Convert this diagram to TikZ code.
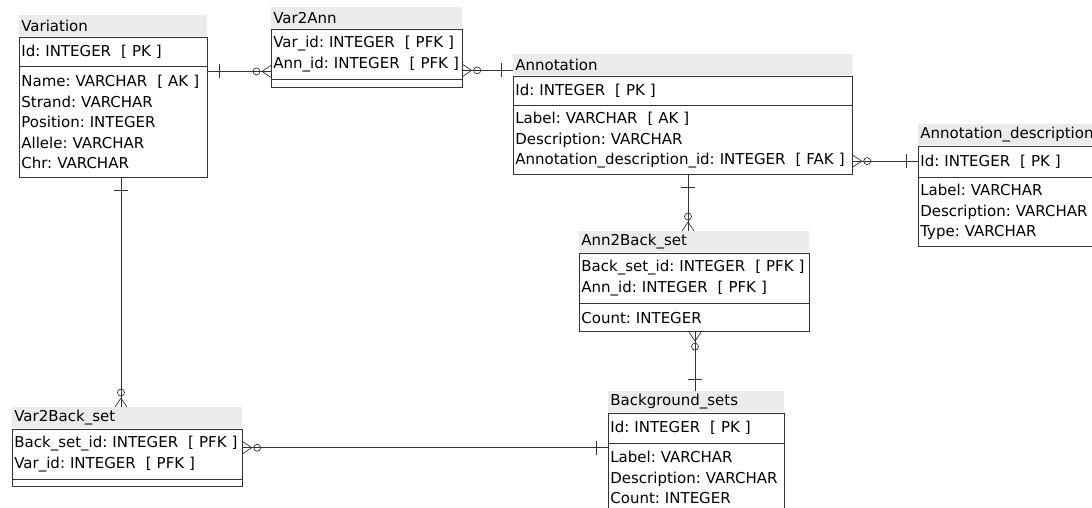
\documentclass[tikz,border=0pt]{standalone}
\usepackage{fontspec}
\setmainfont{DejaVu Sans}
\usetikzlibrary{decorations.markings}
\hyphenpenalty=10000
\exhyphenpenalty=10000

\tikzset{
  tblhead/.style={anchor=north west, fill=black!8, inner xsep=2pt, inner ysep=0pt,
    align=left, minimum height=21pt},
  tblpart/.style={anchor=north west, draw=black!80, inner xsep=2pt, inner ysep=0pt,
    align=left},
  one start/.style={postaction={decorate, decoration={markings,
      mark=at position 12pt with {\draw (0,-7pt) -- (0,7pt);}}}},
  one end/.style={postaction={decorate, decoration={markings,
      mark=at position -12pt with {\draw (0,-7pt) -- (0,7pt);}}}},
  many start/.style={postaction={decorate, decoration={markings,
      mark=at position 9pt with {\draw (0,0) -- (-9pt,6pt) (0,0) -- (-9pt,-6pt);},
      mark=at position 14.5pt with {\draw (0,0) circle (3.5pt);}}}},
  many end/.style={postaction={decorate, decoration={markings,
      mark=at position -9pt with {\draw (0,0) -- (9pt,6pt) (0,0) -- (9pt,-6pt);},
      mark=at position -14.5pt with {\draw (0,0) circle (3.5pt);}}}}
}

\begin{document}
\begin{tikzpicture}[
    x=1pt, y=-1pt,
    line width=0.7pt,
    every node/.style={font=\fontsize{15}{20.5}\selectfont\frenchspacing}
  ]
  \useasboundingbox (0,0) rectangle (1092,507);

  % Variation
  \node[tblhead, text width=184pt] (var-t) at (19,15) {Variation};
  \node[tblpart, text width=184pt, minimum height=29pt] (var-k) at (var-t.south west)
    {Id: INTEGER~~[~PK~]};
  \node[tblpart, text width=184pt, minimum height=111pt] (var-a) at (var-k.south west)
    {Name: VARCHAR~~[~AK~]\\Strand: VARCHAR\\Position: INTEGER\\Allele: VARCHAR\\Chr: VARCHAR};

  % Var2Ann
  \node[tblhead, text width=187pt] (v2a-t) at (271,7) {Var2Ann};
  \node[tblpart, text width=187pt, minimum height=50pt] (v2a-k) at (v2a-t.south west)
    {Var\_id: INTEGER~~[~PFK~]\\Ann\_id: INTEGER~~[~PFK~]};
  \node[tblpart, text width=187pt, minimum height=8pt] (v2a-a) at (v2a-k.south west) {};

  % Annotation
  \node[tblhead, text width=335pt] (ann-t) at (513,54) {Annotation};
  \node[tblpart, text width=335pt, minimum height=29pt] (ann-k) at (ann-t.south west)
    {Id: INTEGER~~[~PK~]};
  \node[tblpart, text width=335pt, minimum height=69pt] (ann-a) at (ann-k.south west)
    {Label: VARCHAR~~[~AK~]\\Description: VARCHAR\\Annotation\_description\_id: INTEGER~~[~FAK~]};

  % Annotation_description
  \node[tblhead, text width=178pt] (ad-t) at (918,124) {Annotation\_description};
  \node[tblpart, text width=178pt, minimum height=31pt] (ad-k) at (ad-t.south west)
    {Id: INTEGER~~[~PK~]};
  \node[tblpart, text width=178pt, minimum height=69pt] (ad-a) at (ad-k.south west)
    {Label: VARCHAR\\Description: VARCHAR\\Type: VARCHAR};

  % Ann2Back_set
  \node[tblhead, text width=226pt] (a2b-t) at (579,231) {Ann2Back\_set};
  \node[tblpart, text width=226pt, minimum height=50pt] (a2b-k) at (a2b-t.south west)
    {Back\_set\_id: INTEGER~~[~PFK~]\\Ann\_id: INTEGER~~[~PFK~]};
  \node[tblpart, text width=226pt, minimum height=28pt] (a2b-a) at (a2b-k.south west)
    {Count: INTEGER};

  % Background_sets
  \node[tblhead, text width=172pt] (bg-t) at (608,391) {Background\_sets};
  \node[tblpart, text width=172pt, minimum height=30pt] (bg-k) at (bg-t.south west)
    {Id: INTEGER~~[~PK~]};
  \node[tblpart, text width=172pt, minimum height=68pt] (bg-a) at (bg-k.south west)
    {Label: VARCHAR\\Description: VARCHAR\\Count: INTEGER};

  % Var2Back_set
  \node[tblhead, text width=226pt] (v2b-t) at (12,407) {Var2Back\_set};
  \node[tblpart, text width=226pt, minimum height=50pt] (v2b-k) at (v2b-t.south west)
    {Back\_set\_id: INTEGER~~[~PFK~]\\Var\_id: INTEGER~~[~PFK~]};
  \node[tblpart, text width=226pt, minimum height=7pt] (v2b-a) at (v2b-k.south west) {};

  % relations
  \coordinate (c1) at ([yshift=-5pt]var-a.north east);
  \draw[black!80, one start, many end] (c1) -- (c1 -| v2a-k.west);
  \coordinate (c2) at ([yshift=9pt]v2a-k.south east);
  \draw[black!80, many start, one end] (c2) -- (c2 -| ann-t.west);
  \coordinate (c3) at ([yshift=14pt]ann-a.south east);
  \draw[black!80, many start, one end] (c3) -- (c3 -| ad-k.west);
  \coordinate (c4) at ([xshift=109pt]a2b-t.north west);
  \draw[black!80, one start, many end] (c4 |- ann-a.south) -- (c4);
  \coordinate (c5) at ([xshift=87pt]bg-t.north west);
  \draw[black!80, many start, one end] (c5 |- a2b-a.south) -- (c5);
  \coordinate (c6) at ([xshift=109pt]v2b-t.north west);
  \draw[black!80, one start, many end] (c6 |- var-a.south) -- (c6);
  \coordinate (c7) at ([yshift=-19pt]v2b-k.north east);
  \draw[black!80, many start, one end] (c7) -- (c7 -| bg-a.west);
\end{tikzpicture}
\end{document}
